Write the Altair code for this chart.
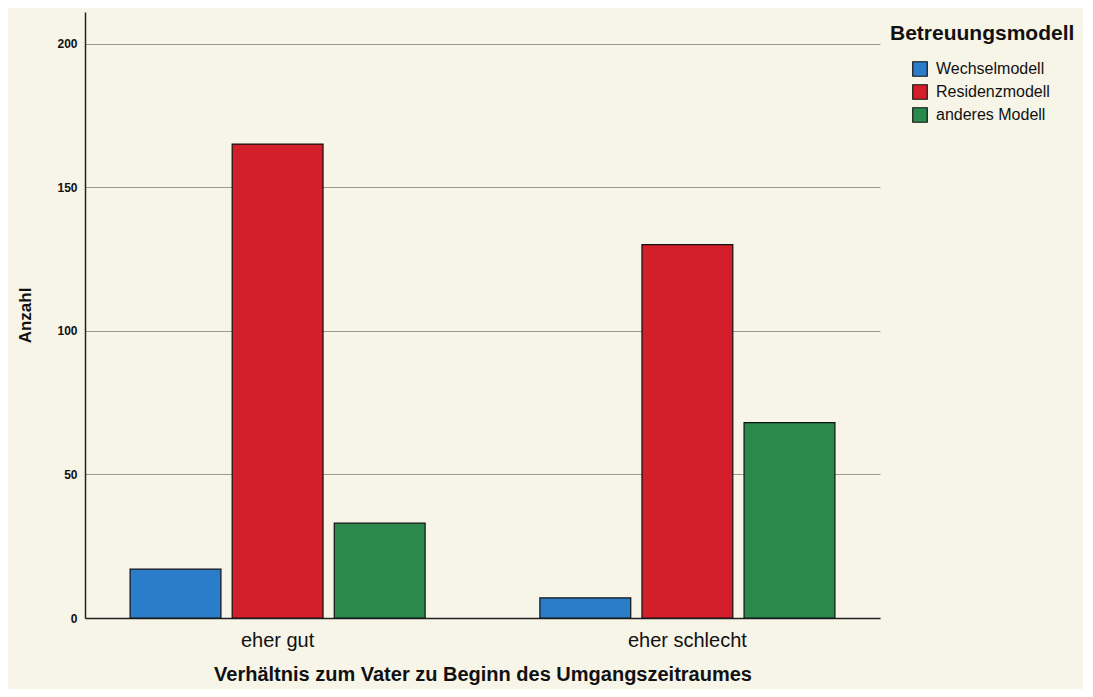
import altair as alt
import pandas as pd

categories = ["eher gut", "eher schlecht"]
models = ["Wechselmodell", "Residenzmodell", "anderes Modell"]
wechsel = [17, 7]
residenz = [165, 130]
anderes = [33, 68]
colors = ["#2b7cc9", "#d31f2a", "#2a8a4c"]

rows = []
for i, c in enumerate(categories):
    for m, vals in zip(models, [wechsel, residenz, anderes]):
        rows.append({"Verhältnis": c, "Modell": m, "Anzahl": vals[i]})
df = pd.DataFrame(rows)

font = "Liberation Sans"

chart = alt.Chart(df).mark_bar(stroke="#111111", strokeWidth=1.2).encode(
    x=alt.X("Verhältnis:N", sort=categories,
            scale=alt.Scale(paddingInner=0.28, paddingOuter=0.11),
            axis=alt.Axis(title="Verhältnis zum Vater zu Beginn des Umgangszeitraumes",
                          labelAngle=0, labelFontSize=20, labelFont=font,
                          labelColor="#111111", labelPadding=12,
                          titleFontSize=20, titleFont=font, titleFontWeight="bold",
                          titleColor="#111111", titlePadding=14,
                          ticks=False, domainColor="#222222", domainWidth=1.5)),
    xOffset=alt.XOffset("Modell:N", sort=models,
                        scale=alt.Scale(paddingInner=0.11, paddingOuter=0.0)),
    y=alt.Y("Anzahl:Q", scale=alt.Scale(domain=[0, 211], nice=False),
            axis=alt.Axis(values=[0, 50, 100, 150, 200], title="Anzahl",
                          labelFontSize=12, labelFont=font, labelFontWeight="bold",
                          labelColor="#111111", labelPadding=8,
                          titleFontSize=17, titleFont=font, titleFontWeight="bold",
                          titleColor="#111111", titlePadding=22,
                          ticks=False, grid=True, gridColor="#9a9a92",
                          gridWidth=1.2, domainColor="#222222", domainWidth=1.5)),
    color=alt.Color("Modell:N", sort=models,
                    scale=alt.Scale(domain=models, range=colors),
                    legend=alt.Legend(title="Betreuungsmodell", orient="none",
                                      legendX=805, legendY=11,
                                      titleFontSize=21, titleFont=font,
                                      titleFontWeight="bold", titleColor="#111111",
                                      titleLimit=400, labelLimit=300,
                                      labelFontSize=16, labelFont=font,
                                      labelColor="#111111", symbolType="square",
                                      symbolSize=210, symbolStrokeColor="#111111",
                                      symbolStrokeWidth=1.2, rowPadding=3,
                                      symbolOffset=22, labelOffset=8,
                                      padding=0, titlePadding=17)),
).properties(
    width=795, height=606,
    background="#f7f4e8",
    padding={"left": 77, "top": 4, "right": 203, "bottom": 71},
    autosize=alt.AutoSizeParams(type="none"),
).configure_view(stroke=None)

chart.save("out.html", embed_options={"renderer": "svg", "actions": False})
